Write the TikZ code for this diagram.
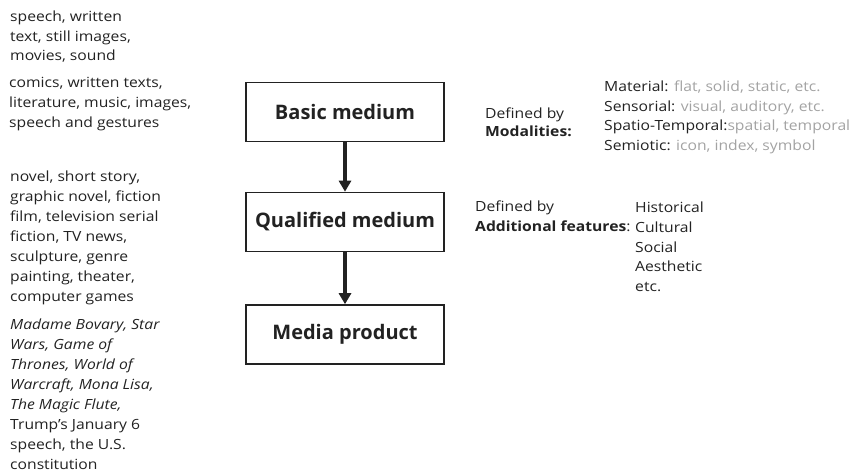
\documentclass[tikz,border=0pt]{standalone}
\usepackage{fontspec}
\setmainfont{Open Sans}
\newfontfamily\notefont{Open Sans}[FakeStretch=1.12]
\usetikzlibrary{arrows.meta}
\definecolor{ink}{HTML}{222222}
\definecolor{soft}{HTML}{A3A3A3}
\begin{document}
\begin{tikzpicture}[x=1pt,y=-1pt,
  note/.style={anchor=base west,inner sep=0pt,align=left,text=ink,
    font=\notefont\fontsize{14}{20}\selectfont},
  stage/.style={draw=ink,line width=1.6pt,minimum width=198pt,minimum height=59pt,
    text=ink,font=\fontsize{20}{24}\selectfont\bfseries},
  flow/.style={draw=ink,line width=3.4pt,-{Triangle[length=11pt,width=12pt]}}]
\useasboundingbox (0,0) rectangle (852,472);
% examples column (anchored at the baseline of each block's last line)
\node[note,font=\notefont\fontsize{14}{19.5}\selectfont] (ex1) at (10,60.7)
  {speech, written\\text, still images,\\movies, sound};
\node[note] (ex2) at (9,127.7)
  {comics, written texts,\\literature, music, images,\\speech and gestures};
\node[note] (ex3) at (10,301.7)
  {novel, short story,\\graphic novel, fiction\\film, television serial\\fiction, TV news,\\sculpture, genre\\painting, theater,\\computer games};
\node[note] (ex4) at (10,469.7)
  {\textit{Madame Bovary, Star}\\\textit{Wars, Game of}\\\textit{Thrones, World of}\\\textit{Warcraft, Mona Lisa,}\\\textit{The Magic Flute,}\\Trump’s January 6\\speech, the U.S.\\constitution};
% the three stages
\node[stage] (basic) at (345,112) {Basic medium};
\node[stage] (qual) at (345,222) {Qualified medium};
\node[stage] (prod) at (345,334.5) {Media product};
\draw[flow] (basic) -- (qual);
\draw[flow] (qual) -- (prod);
% modalities
\node[note,font=\notefont\fontsize{14}{18.5}\selectfont] (mod) at (485,136.7)
  {Defined by\\\textbf{Modalities:}};
\node[note,font=\notefont\fontsize{14}{19.7}\selectfont] (modlist) at (604,150.5)
  {Material: \textcolor{soft}{flat, solid, static, etc.}\\Sensorial: \textcolor{soft}{visual, auditory, etc.}\\Spatio-Temporal:\textcolor{soft}{spatial, temporal}\\Semiotic: \textcolor{soft}{icon, index, symbol}};
% additional features
\node[note] (add) at (475,231.7) {Defined by\\\textbf{Additional features}:};
\node[note,font=\notefont\fontsize{14}{19.8}\selectfont] (addlist) at (635,291.7)
  {Historical\\Cultural\\Social\\Aesthetic\\etc.};
\end{tikzpicture}
\end{document}
